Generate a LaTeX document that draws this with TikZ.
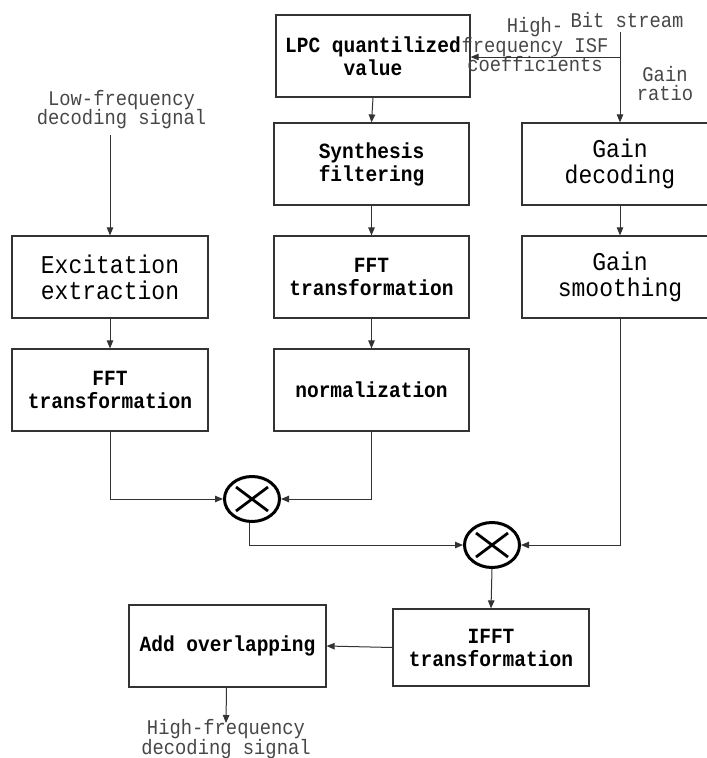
\documentclass[tikz,border=0pt]{standalone}
\usepackage{fontspec}
% slightly condensed monospace: taller glyphs for the same advance width
\setmainfont[FakeStretch=0.9]{Liberation Mono}
\usetikzlibrary{arrows.meta,shapes.geometric}

\tikzset{
  box/.style={draw=black!80, line width=1.2pt, inner sep=0pt, align=center,
    minimum width=195pt, minimum height=82pt,
    font=\fontsize{21.7}{23}\selectfont\bfseries},
  bigbox/.style={box, font=\fontsize{25.6}{26}\selectfont},
  lbl/.style={inner sep=0pt, align=center, text=black!72,
    font=\fontsize{20.9}{19.5}\selectfont},
  arr/.style={draw=black!80, line width=1pt,
    -{Triangle[length=8pt,width=6.5pt]}},
  mult/.style={ellipse, draw=black, line width=3pt, inner sep=0pt,
    minimum width=55pt, minimum height=45pt,
    path picture={\draw[line width=2.8pt]
      ([shift={(-16pt,-12pt)}]path picture bounding box.center) -- ++(32pt,24pt)
      ([shift={(-16pt,12pt)}]path picture bounding box.center) -- ++(32pt,-24pt);}}
}

\begin{document}
\begin{tikzpicture}[x=1pt,y=-1pt]
\useasboundingbox (0,0) rectangle (707,758);

% processing blocks
\node[box, minimum width=194pt] (lpc) at (373,56) {LPC quantilized\\value};
\node[box] (synth) at (371.5,164) {Synthesis\\filtering};
\node[box] (fftm) at (371.5,277) {FFT\\transformation};
\node[box] (norm) at (371.5,390) {normalization};
\node[bigbox, minimum width=196pt] (gdec) at (620,164) {Gain\\decoding};
\node[bigbox, minimum width=196pt] (gsm) at (620,277) {Gain\\smoothing};
\node[bigbox, minimum width=196pt] (exc) at (110,277) {Excitation\\extraction};
\node[box, minimum width=196pt] (fftl) at (110,390) {FFT\\transformation};
\node[box, minimum width=196pt, minimum height=77pt] (ifft) at (491,647.5) {IFFT\\transformation};
\node[box, minimum width=197pt] (add) at (227.5,646) {Add overlapping};

% multipliers
\node[mult] (m1) at (252,499) {};
\node[mult] (m2) at (492,545) {};

% input / output labels
\node[lbl] (bits) at (627,20) {Bit stream};
\node[lbl] (isf) at (535,45) {High-\\frequency ISF\\coefficients};
\node[lbl] (gr) at (665,83.5) {Gain\\ratio};
\node[lbl] (lowsig) at (121.5,109.5) {Low-frequency\\decoding signal};
\node[lbl] (highsig) at (226,739) {High-frequency\\decoding signal};

\coordinate (bitin) at (620,32);
\coordinate (isfbr) at (620,57);
\coordinate (lowin) at (110,135);
\coordinate (hfout) at (226,723);

% connectors
\draw[arr] (bitin) -- (gdec.north);
\draw[arr] (isfbr) -- (lpc.east |- isfbr);
\draw[arr] (lpc.south) -- (synth.north);
\draw[arr] (synth) -- (fftm);
\draw[arr] (fftm) -- (norm);
\draw[arr] (gdec) -- (gsm);
\draw[arr] (lowin) -- (exc.north);
\draw[arr] (exc) -- (fftl);
\draw[arr] (fftl.south) |- (m1.west);
\draw[arr] (norm.south) |- (m1.east);
\draw[arr] ([xshift=-3pt]m1.south) |- (m2.west);
\draw[arr] (gsm.south) |- (m2.east);
\draw[arr] (m2.south) -- (ifft.north);
\draw[arr] (ifft.west) -- (add.east);
\draw[arr] ([xshift=-1pt]add.south) -- (hfout);
\end{tikzpicture}
\end{document}
